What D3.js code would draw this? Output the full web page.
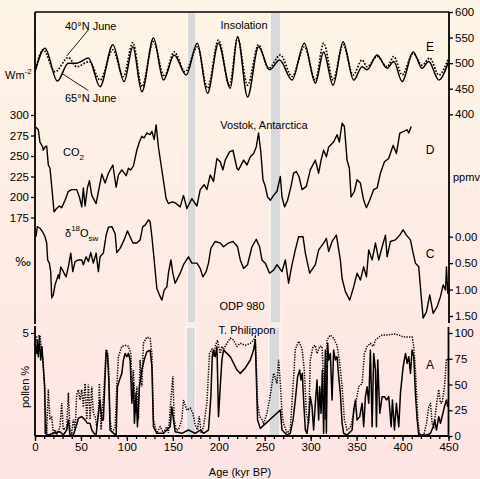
<!DOCTYPE html>
<html><head><meta charset="utf-8">
<script src="https://cdn.jsdelivr.net/npm/d3@7"></script>
<style>
html,body{margin:0;padding:0;}
body{width:480px;height:479px;overflow:hidden;}
svg{display:block;font-family:"Liberation Sans",Arial,Helvetica,sans-serif;}
</style></head><body>
<svg id="c" width="480" height="479"></svg>
<script>
// ---- data (age kyr BP, value) ----
const insol65 = [[0,483],[10.9,529],[24.3,465],[36.3,500],[45.4,500],[58.1,510],[70.8,454],[84.7,536],[97,464],[106.5,532],[116.3,444],[128.9,549],[139.8,467],[151.5,516],[164.5,477],[176.6,539],[187.7,441],[199.6,539],[212.5,451],[220.4,552],[231.3,434],[243.3,532],[255.3,487],[266.2,506],[279.7,467],[293.1,539],[305.1,461],[314.1,522],[324.4,457],[335.3,542],[346.8,467],[356,493],[361.4,487],[372.3,516],[383.2,490],[390.4,503],[399.6,464],[411.5,522],[421.3,490],[428.5,503],[439.4,467],[450,503]];
const insol40 = [[0,483],[9,526],[21.8,483],[36.3,511],[45.4,493],[59.2,503],[70.8,467],[84.7,526],[96.2,474],[106.5,540],[116.3,454],[128.9,542],[140.6,474],[151.5,522],[163.4,483],[176.8,532],[187.7,451],[199.7,545],[211.7,457],[220.4,549],[231.3,457],[243.3,536],[254.2,490],[267,516],[279.7,474],[293.1,532],[305.1,467],[314.1,539],[324.4,467],[335.3,536],[346.2,477],[356,506],[361.4,493],[372.3,513],[383.2,493],[390.4,513],[399.6,477],[411.5,519],[421.3,496],[429.6,510],[439.4,477],[450,510]];
const co2 = [[1.1,285],[3.6,282],[5.4,267],[8.4,261],[9,257],[10.9,261],[12.7,262],[14.5,239],[16.3,235],[18.2,213],[20.7,182],[23.6,186],[26.5,189],[29.1,187],[32.7,196],[36.3,207],[40,209],[45.4,209],[48.3,200],[50.9,188],[52.6,211],[54.5,189],[57,211],[59.2,220],[61.8,202],[66.5,192],[72.7,228],[76.3,217],[79.9,229],[84.7,239],[88.3,212],[90.8,227],[94.5,233],[99.2,226],[101.7,235],[104.3,233],[107.1,238],[110.8,257],[113.6,267],[116.3,274],[118.8,272],[121.7,278],[125.3,276],[127.2,280],[129.7,270],[131.8,288],[134.3,261],[139.1,225],[142.7,198],[145.2,192],[148.9,194],[152.5,193],[158,188],[161.6,202],[165.3,186],[170.7,198],[176.2,189],[179.8,209],[184.1,215],[187.1,209],[190.7,227],[194.3,219],[198,247],[201.6,243],[204.5,233],[207,245],[211.7,255],[215.4,257],[219.8,235],[221.5,233],[223.4,237],[227,245],[230.7,239],[234.3,249],[237.9,253],[240.8,261],[243.3,278],[245.9,253],[248.1,221],[250.6,213],[253.1,200],[256.1,196],[259.7,202],[263.4,207],[267,225],[268.8,200],[271.6,188],[274.9,196],[278.6,213],[281.4,229],[284.4,231],[287.3,225],[290.6,209],[295.3,213],[299.6,233],[305.1,245],[308.7,229],[311.3,245],[314.1,257],[317.1,249],[319.6,261],[325,267],[328.7,276],[331.2,267],[334.2,290],[336.7,286],[339.6,245],[342.1,235],[344,200],[347.6,207],[350.5,221],[354.1,217],[357.7,196],[360.7,187],[364.2,196],[368.6,209],[372.3,211],[375.9,229],[380.3,243],[384.9,247],[389.8,263],[393.3,253],[397,278],[401.3,280],[405,282],[406.8,278],[409.4,286]];
const d18Osw = [[1.1,0],[2.5,-0.19],[5.4,-0.16],[8.4,-0.09],[10.9,0],[12.7,0.12],[13.8,0.44],[15.6,0.5],[17.1,0.66],[18.2,1.16],[19.9,1.10],[21.8,0.91],[23.6,0.82],[25.4,0.72],[26.5,0.79],[28,0.57],[30.8,0.66],[33.8,0.76],[36.3,0.57],[38.9,0.31],[41.1,0.66],[43.6,0.47],[47.2,0.44],[50.9,0.44],[52.6,0.53],[55.6,0.38],[58.1,0.47],[60.7,0.30],[63.5,0.50],[66.5,0.31],[69,0.66],[70.8,0.38],[74.4,0.31],[77.4,-0.03],[79.9,-0.18],[83.6,-0.19],[87.2,-0.06],[89,0.30],[92.6,0.22],[97,0.06],[100.6,-0.11],[103.5,0],[106.5,0.12],[110.8,0.12],[114.4,0.06],[117.3,-0.19],[119.9,-0.22],[123.5,-0.32],[125.3,-0.28],[127.2,0],[129.7,0.44],[132.6,0.98],[135.4,1.10],[138.1,1.20],[140.6,1.01],[143.5,0.95],[145.2,0.69],[147.9,0.44],[150,0.69],[152.5,0.88],[158,0.69],[161.6,0.53],[167,0.38],[170.7,0.50],[176.2,0.50],[179.8,0.60],[182.7,0.76],[186.3,0.66],[188.8,0.50],[191.4,0.22],[196.1,0.09],[201.6,0.12],[205.2,0.19],[210.6,0.12],[215.4,0.09],[220.4,0.19],[223.4,0.44],[227,0.60],[231.3,0.53],[236.1,0.19],[240.8,0.05],[244.4,0.19],[247,0.44],[250.6,0.50],[255.3,0.69],[259.7,0.63],[263.4,0.53],[268.8,0.66],[272.4,0.44],[276,0.88],[279.7,0.53],[283.3,0.25],[286.9,0],[291.7,0],[294.2,0.31],[298.9,0.69],[305.1,0.53],[308.7,0.25],[314.1,0.12],[317.1,0.03],[319.6,0.28],[323.3,0.09],[328,-0.03],[332.3,0.44],[334.2,0.79],[337.8,1.04],[342.5,1.20],[346.8,0.95],[350.5,0.69],[354.1,0.82],[357.7,0.57],[360.7,0.76],[363.2,0.25],[366.9,0.44],[370.5,0.12],[374.1,0.44],[377.8,0.19],[381.4,-0.03],[383.2,0.38],[386.8,0.09],[392.3,0.06],[396.9,-0.03],[400.6,-0.13],[404.2,-0.03],[408.6,0.06],[411.5,0.31],[414,0.50],[417.6,0.57],[420.3,1.13],[422.4,1.54],[426,1.42],[429.6,1.10],[433.3,1.45],[437.7,1.32],[441.3,1.13],[444.2,0.91],[446.7,1.01],[447.8,0.57],[449.2,1.07],[450,0.95]];
const pollenDotted = [[0,88],[1.9,96],[5.4,98],[9,71],[10.9,32],[12.7,3],[14.5,45],[16.3,16],[18.2,19],[19.9,3],[21.8,6],[23.6,1],[27.2,9],[29.1,32],[30.8,6],[34.5,9],[36.3,42],[38.1,6],[40,3],[41.7,16],[43.6,6],[45.4,40],[47.2,45],[49,35],[50.9,45],[52.6,28],[54.5,51],[56.3,16],[58.1,50],[59.9,16],[61.8,48],[63.5,22],[65.4,19],[67.2,9],[69,22],[70.1,51],[71.9,6],[75.2,48],[77.4,84],[78.8,82],[80.3,64],[81.7,16],[83.6,3],[87.2,8],[89,48],[90.8,77],[94.5,87],[98.1,88],[101.7,87],[104.3,80],[105.7,48],[107.1,64],[109,22],[110.8,48],[112.6,16],[114.4,74],[116.3,48],[118,90],[121.7,96],[125.3,95],[127.2,80],[128.9,16],[130.8,9],[132.6,3],[136.2,9],[139.8,3],[143.5,9],[145.2,3],[147.9,35],[150,58],[151.5,16],[153.6,6],[156.1,6],[159.8,16],[161.6,35],[165.3,25],[168.9,27],[171.8,22],[174.3,11],[176.8,6],[178.7,19],[180.9,3],[183.4,9],[187.1,32],[189.9,80],[192.5,84],[194.3,77],[196.1,87],[198.6,93],[201.6,80],[203.4,87],[205.2,84],[208.9,90],[212.5,95],[216.1,93],[219.8,87],[223.4,90],[228.8,88],[234.3,90],[237.9,93],[239.7,96],[240.8,71],[242.2,32],[244.4,19],[247,16],[248.8,12],[252.5,22],[256.1,40],[259.7,61],[263.4,51],[265.1,74],[267,51],[268.8,22],[270.5,12],[274.3,3],[277.8,6],[280.8,48],[283.3,84],[286.9,92],[290.6,85],[293.1,64],[295.3,22],[297.8,12],[299.6,74],[302.6,87],[305.1,88],[306.9,80],[309.8,87],[312.4,87],[314.1,54],[316,16],[317.8,93],[319.6,96],[321.4,98],[325,95],[328.7,88],[331.6,71],[334.2,48],[336.7,16],[339.6,6],[343.2,8],[346.8,22],[349.8,35],[352.3,48],[356,51],[358.5,80],[361.4,87],[365,90],[368,87],[370.5,93],[374.1,96],[377.8,98],[383.2,98],[390.4,99],[395.9,98],[401.3,96],[406.8,96],[410.4,96],[412.2,87],[414,64],[416.6,16],[418.7,1],[423.1,1],[426,12],[428.5,28],[430.4,32],[432.2,12],[434,9],[437.7,35],[439.4,45],[441.3,32],[443.1,32],[445.6,48],[447.8,75],[450,74]];
const pollenSolid = [[0,4.5],[1.9,4.01],[2.5,4.66],[3.6,3.85],[4.7,4.82],[6.2,3.69],[7.6,4.33],[9,3.36],[10.6,2.39],[11.2,0.13],[14.5,0.05],[19.9,0.13],[27.2,0.21],[30.8,0.05],[34.5,0.29],[36.3,0.78],[38.1,0.05],[41.7,0.05],[44.7,0.45],[47.2,0.86],[50.9,0.94],[54.5,0.78],[57,0.62],[59.9,0.62],[61.8,0.29],[64.3,0.13],[66.5,0.05],[69,1.1],[70.8,1.75],[72.7,0.78],[74.4,0.78],[77.4,4.09],[78.8,4.01],[80.3,2.72],[81.7,0.29],[85.3,0.13],[88.3,0.05],[89.7,2.39],[91.9,2.72],[94.5,3.04],[96.2,3.69],[98.1,4.01],[99.9,3.85],[101.7,4.01],[103.5,3.69],[105.4,1.59],[107.1,2.56],[108.2,0.62],[110,2.07],[111.5,0.45],[113.6,2.39],[116.3,3.2],[118.8,3.69],[121.7,4.09],[125.3,4.17],[127.2,3.36],[128.9,0.45],[132.6,0.13],[139.8,0.13],[147.1,0.45],[148.9,1.42],[150.7,0.78],[152.5,0.21],[159.8,0.13],[167,0.29],[174.3,0.13],[179.8,0.29],[183.4,0.13],[188.8,0.29],[191.4,1.91],[192.9,3.85],[194.3,4.17],[196.1,3.85],[198,4.33],[199.7,0.94],[201.6,2.39],[203.4,3.69],[205.2,4.17],[208.9,4.01],[212.5,3.85],[216.1,3.53],[219.8,3.2],[223.4,3.04],[228.8,3.3],[234.3,3.69],[237.9,4.17],[239.7,4.66],[242.2,0.78],[245.2,0.37],[267,1.26],[268.8,0.29],[274.3,0.05],[277.8,0.13],[280.8,0.78],[283.3,1.75],[285.8,2.88],[288,3.2],[289.5,2.72],[290.9,3.04],[292.3,1.75],[294.2,0.29],[296,0.13],[297.8,0.78],[299.6,1.91],[301.5,1.42],[303.2,0.29],[305.1,1.59],[306.9,2.72],[308.7,0.78],[309.8,2.39],[311.3,1.1],[312.7,3.2],[314.1,0.13],[316,4.17],[317.1,0.13],[318.5,4.5],[319.6,3.69],[321.4,4.01],[323.3,1.75],[325,4.17],[326.9,3.69],[328.7,3.85],[330.5,2.88],[332.3,2.07],[334.2,0.62],[335.9,0.13],[339.6,0.05],[345.1,0.29],[346.8,1.26],[348.7,1.75],[350.5,0.78],[353.4,0.94],[356,1.59],[357.7,0.45],[359.6,1.91],[361.4,2.39],[363.2,1.59],[365,4.17],[366.9,0.45],[368.6,4.01],[370.5,3.2],[371.6,0.45],[373,3.69],[375.2,1.1],[377.8,1.91],[380.3,1.91],[382.5,1.75],[385,1.91],[387.6,0.45],[389,1.75],[391.2,0.29],[393.3,1.59],[395.9,0.45],[397.7,2.07],[400.6,3.36],[403.2,4.01],[405,3.53],[406.8,3.85],[408.6,3.04],[410.4,4.17],[412.2,3.85],[414,2.07],[415.9,0.78],[417.6,0.05],[426.8,0.05],[430.4,0.13],[433.3,0.45],[435.1,0.78],[436.9,0.29],[439.4,0.94],[441.3,0.62],[445.6,1.42],[447.8,1.75],[449.2,1.42]];
const bandsUpper = [[166,175],[256,267.5]];
const bandsLower = [[164.5,174.5],[254.5,266.5]];
const ageTicks = d3.range(0, 451, 50);
const ageMinorTicks = d3.range(0, 451, 10);
const insolTicks = [400,450,500,550,600];
const co2Ticks = [175,200,225,250,275,300];
const d18Ticks = [0,0.5,1,1.5];
const pollenRightTicks = [0,25,50,75,100];
const pollenLeftTicks = [5];

// ---- drawing ----
const svg = d3.select("#c");
const defs = svg.append("defs");
const gr = defs.append("linearGradient").attr("id","bg").attr("x1",0).attr("y1",0).attr("x2",0).attr("y2",1);
gr.append("stop").attr("offset","0%").attr("stop-color","#fdf5e6");
gr.append("stop").attr("offset","100%").attr("stop-color","#fde4e4");
svg.append("rect").attr("width",480).attr("height",479).attr("fill","url(#bg)");

const x = d3.scaleLinear().domain([0,450]).range([35,448.5]);
const yE = d3.scaleLinear().domain([400,600]).range([114.3,12]);
const yD = d3.scaleLinear().domain([175,300]).range([217.5,115]);
const yC = d3.scaleLinear().domain([0,1.5]).range([236.7,316]);
const yAr = d3.scaleLinear().domain([0,100]).range([436,333]);
const yAl = d3.scaleLinear().domain([0,5]).range([436,333]);

// bands
bandsUpper.forEach(b=>{
  svg.append("rect").attr("x",x(b[0])).attr("y",12).attr("width",x(b[1])-x(b[0])).attr("height",311)
    .attr("fill","#d9d9d9").attr("stroke","#ffffff").attr("stroke-width",0.8);
});
bandsLower.forEach(b=>{
  svg.append("rect").attr("x",x(b[0])).attr("y",327).attr("width",x(b[1])-x(b[0])).attr("height",109)
    .attr("fill","#d9d9d9").attr("stroke","#ffffff").attr("stroke-width",1);
});

// series
const mk = (ys, curve) => d3.line().x(d=>x(d[0])).y(d=>ys(d[1])).curve(curve||d3.curveLinear);
svg.append("path").datum(insol40).attr("d", mk(yE, d3.curveMonotoneX)).attr("fill","none")
  .attr("stroke","#000").attr("stroke-width",1.7).attr("stroke-dasharray","1.6,1.6");
svg.append("path").datum(insol65).attr("d", mk(yE, d3.curveMonotoneX)).attr("fill","none")
  .attr("stroke","#000").attr("stroke-width",1.5);
svg.append("path").datum(co2).attr("d", mk(yD)).attr("fill","none").attr("stroke","#000").attr("stroke-width",1.4).attr("stroke-linejoin","round");
svg.append("path").datum(d18Osw).attr("d", mk(yC)).attr("fill","none").attr("stroke","#000").attr("stroke-width",1.4).attr("stroke-linejoin","round");
svg.append("path").datum(pollenDotted).attr("d", mk(yAr)).attr("fill","none")
  .attr("stroke","#000").attr("stroke-width",1.5).attr("stroke-dasharray","1.3,1.3");
svg.append("path").datum(pollenSolid).attr("d", mk(yAl)).attr("fill","none").attr("stroke","#000").attr("stroke-width",1.5).attr("stroke-linejoin","round");

// axis lines
const ax = svg.append("g").attr("stroke","#000").attr("stroke-width",1.8);
ax.append("line").attr("x1",35).attr("x2",449).attr("y1",12).attr("y2",12).attr("stroke-width",1.3);
ax.append("line").attr("x1",35).attr("x2",35).attr("y1",12).attr("y2",324);
ax.append("line").attr("x1",35).attr("x2",35).attr("y1",326).attr("y2",436);
ax.append("line").attr("x1",449).attr("x2",449).attr("y1",12).attr("y2",323);
ax.append("line").attr("x1",448.5).attr("x2",448.5).attr("y1",327).attr("y2",436);
ax.append("line").attr("x1",35).attr("x2",449).attr("y1",436).attr("y2",436);

function styleAxis(g){
  g.select(".domain").remove();
  g.selectAll(".tick line").attr("stroke","#000").attr("stroke-width",1.3);
  g.selectAll(".tick text").attr("fill","#000").style("font-size","11.5px").style("font-family","'Liberation Sans',Arial,sans-serif");
}
svg.append("g").attr("transform","translate(449,0)")
  .call(d3.axisRight(yE).tickValues(insolTicks).tickSize(4).tickPadding(2)).call(styleAxis);
svg.append("g").attr("transform","translate(35,0)")
  .call(d3.axisLeft(yD).tickValues(co2Ticks).tickSize(4).tickPadding(2)).call(styleAxis);
svg.append("g").attr("transform","translate(449,0)")
  .call(d3.axisRight(yC).tickValues(d18Ticks).tickSize(4).tickPadding(2).tickFormat(d3.format(".2f"))).call(styleAxis);
svg.append("g").attr("transform","translate(448.5,0)")
  .call(d3.axisRight(yAr).tickValues(pollenRightTicks).tickSize(4).tickPadding(2)).call(styleAxis);
svg.append("g").attr("transform","translate(35,0)")
  .call(d3.axisLeft(yAl).tickValues(pollenLeftTicks).tickSize(4).tickPadding(2).tickFormat(d3.format("d"))).call(styleAxis);
svg.append("g").attr("transform","translate(0,436)")
  .call(d3.axisBottom(x).tickValues(ageMinorTicks).tickSize(3).tickFormat("")).call(styleAxis);
svg.append("g").attr("transform","translate(0,436)")
  .call(d3.axisBottom(x).tickValues(ageTicks).tickSize(5).tickPadding(2)).call(styleAxis);

// texts
const T = (tx, ty, s, anchor, size) => svg.append("text").attr("x",tx).attr("y",ty)
  .attr("text-anchor",anchor||"start").style("font-size",(size||11)+"px").attr("fill","#000").text(s);
T(244, 29, "Insolation", "middle");
T(264, 129, "Vostok, Antarctica", "middle");
T(242, 310, "ODP 980", "middle");
T(247, 334, "T. Philippon", "middle");
T(65, 30, "40°N June");
T(65, 102, "65°N June");
T(430, 51, "E", "middle", 12);
T(430, 154, "D", "middle", 12);
T(430, 258, "C", "middle", 12);
T(430, 369, "A", "middle", 12);
T(453, 181, "ppmv");
T(240, 476, "Age (kyr BP)", "middle");
T(23, 266, "‰", "middle", 12).style("font-family","'DejaVu Sans',sans-serif");
const wm = svg.append("text").attr("x",5).attr("y",79).style("font-size","11px").attr("fill","#000");
wm.append("tspan").text("Wm");
wm.append("tspan").attr("dy",-5).style("font-size","8px").text("-2");
const co = svg.append("text").attr("x",63).attr("y",156).style("font-size","11px").attr("fill","#000");
co.append("tspan").text("CO");
co.append("tspan").attr("dy",4).style("font-size","8px").text("2");
const dl = svg.append("text").attr("x",65).attr("y",237).style("font-size","11px").attr("fill","#000");
dl.append("tspan").text("δ");
dl.append("tspan").attr("dy",-6).style("font-size","8px").text("18");
dl.append("tspan").attr("dy",6).text("O");
dl.append("tspan").attr("dy",4).style("font-size","8px").text("sw");
svg.append("text").attr("transform","translate(29,387) rotate(-90)").attr("text-anchor","middle")
  .style("font-size","11px").attr("fill","#000").text("pollen %");
// leader lines
svg.append("line").attr("x1",88.3).attr("y1",30).attr("x2",66.7).attr("y2",56).attr("stroke","#000").attr("stroke-width",0.9);
svg.append("line").attr("x1",62.7).attr("y1",74).attr("x2",88.3).attr("y2",90.5).attr("stroke","#000").attr("stroke-width",0.9);
</script>
</body></html>
